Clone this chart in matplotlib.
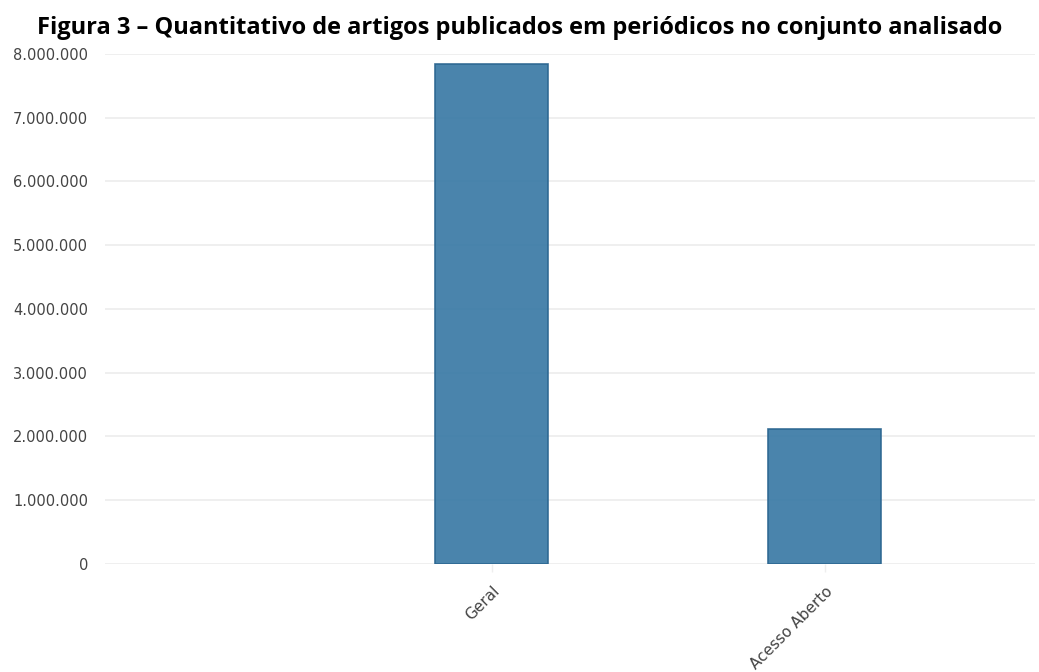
import matplotlib.pyplot as plt
from matplotlib.ticker import FuncFormatter

categorias = ['Geral', 'Acesso Aberto']
artigos = [7850000, 2110000]
y_ticks = [0, 1000000, 2000000, 3000000, 4000000, 5000000, 6000000, 7000000, 8000000]


def fmt_milhar(v, pos):
    return f'{int(v):,}'.replace(',', '.')


plt.rcParams['font.family'] = ['DejaVu Sans']

fig = plt.figure(figsize=(10.39, 6.72), dpi=100)
ax = fig.add_axes([0.101, 0.1607, 0.895, 0.759])

x = list(range(len(categorias)))
ax.bar(x, artigos, width=0.34, color='#3a7aa5', alpha=0.92,
       edgecolor='#2a6590', linewidth=1.2, zorder=3)

ax.set_xlim(-1.162, 1.631)
ax.set_ylim(0, 8000000)
ax.set_yticks(y_ticks)
ax.yaxis.set_major_formatter(FuncFormatter(fmt_milhar))
ax.set_xticks(x)
ax.set_xticklabels(categorias, rotation=45, ha='right', rotation_mode='anchor')

ax.grid(axis='y', color='#ececec', linewidth=1.2, zorder=1)
ax.set_axisbelow(True)
for s in ax.spines.values():
    s.set_visible(False)
ax.tick_params(axis='y', length=0, pad=12, labelsize=10.5, labelcolor='#444444')
ax.tick_params(axis='x', length=6, width=1, color='#eeeeee', pad=8,
               labelsize=11, labelcolor='#444444')

fig.text(0.5, 0.958, 'Figura 3 – Quantitativo de artigos publicados em periódicos no conjunto analisado',
         ha='center', va='center', fontsize=17, fontweight='bold', family='Open Sans')

fig.savefig('out.png', dpi=100)
